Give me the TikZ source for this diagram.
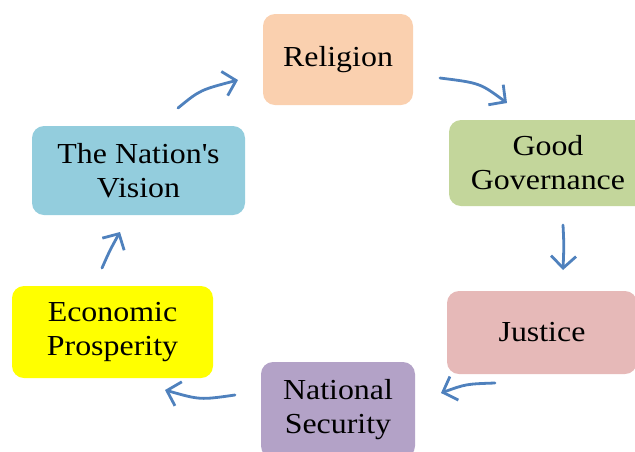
\documentclass[tikz,border=0pt]{standalone}
\usepackage{fontspec}
\setmainfont{Liberation Serif}[FakeStretch=1.1]
\usetikzlibrary{arrows.meta}
\definecolor{relc}{HTML}{FAD0AF}
\definecolor{govc}{HTML}{C3D69B}
\definecolor{jusc}{HTML}{E6B9B8}
\definecolor{secc}{HTML}{B3A2C7}
\definecolor{ecoc}{HTML}{FFFF00}
\definecolor{visc}{HTML}{93CDDD}
\definecolor{arrc}{HTML}{4F81BD}
\tikzset{
  boxnode/.style={rectangle, rounded corners=12pt, draw=none, align=center,
    font=\fontsize{29}{34}\selectfont, inner sep=0pt},
  cyclearrow/.style={draw=arrc, line width=2.8pt, line cap=round,
    -{Straight Barb[length=12pt,width=25pt,line width=2.8pt]}}
}
\begin{document}
\begin{tikzpicture}[x=1pt,y=-1pt]
\useasboundingbox (0,0) rectangle (635,451);
\clip (0,0) rectangle (635,451);
\node[boxnode, fill=relc, minimum width=150pt, minimum height=91pt] (rel) at (338,59.5) {Religion};
\node[boxnode, fill=govc, minimum width=198pt, minimum height=86pt] (gov) at (548,163) {Good\\Governance};
\node[boxnode, fill=jusc, minimum width=190pt, minimum height=83pt] (jus) at (542,332.5) {Justice};
\node[boxnode, fill=secc, minimum width=154pt, minimum height=96pt] (sec) at (338,410) {National\\Security};
\node[boxnode, fill=ecoc, minimum width=201pt, minimum height=92pt] (eco) at (112.5,332) {Economic\\Prosperity};
\node[boxnode, fill=visc, minimum width=213pt, minimum height=89pt] (vis) at (138.5,170.5) {The Nation\textquotesingle s\\Vision};
\coordinate (a1s) at (178,108); \coordinate (a1e) at (238,80);
\coordinate (a2s) at (440,78);  \coordinate (a2e) at (507,103);
\coordinate (a3s) at (563,225); \coordinate (a3e) at (563,270);
\coordinate (a4s) at (495,383); \coordinate (a4e) at (441,393);
\coordinate (a5s) at (235,395); \coordinate (a5e) at (165,390);
\coordinate (a6s) at (102,268); \coordinate (a6e) at (120,232);
\draw[cyclearrow] (a1s) .. controls (200,90) .. (a1e);
\draw[cyclearrow] (a2s) .. controls (480,83) .. (a2e);
\draw[cyclearrow] (a3s) .. controls (564,245) .. (a3e);
\draw[cyclearrow] (a4s) .. controls (466,384) .. (a4e);
\draw[cyclearrow] (a5s) .. controls (200,400) .. (a5e);
\draw[cyclearrow] (a6s) .. controls (110,250) .. (a6e);
\end{tikzpicture}
\end{document}
